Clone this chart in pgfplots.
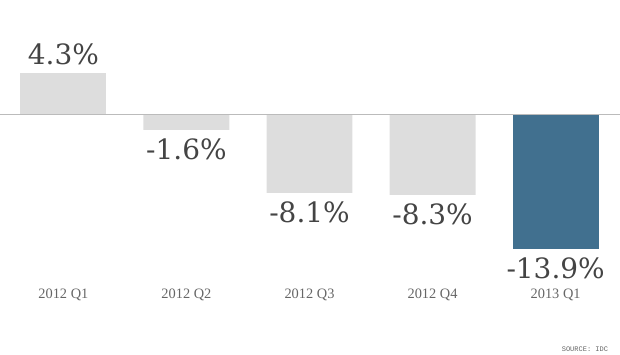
\documentclass[border=0pt]{standalone}
\usepackage{pgfplots}
\pgfplotsset{compat=1.18}
\usepackage{fontspec}
\setmainfont{DejaVu Serif}
\newfontfamily\catfont{Liberation Serif}
\newfontfamily\srcfont{Liberation Mono}
\definecolor{barGray}{HTML}{DDDDDD}
\definecolor{barBlue}{HTML}{41708F}
\definecolor{valText}{HTML}{444444}
\definecolor{catText}{HTML}{666666}
\definecolor{baseLine}{HTML}{BBBBBB}
\begin{document}
\begin{tikzpicture}
\begin{axis}[
 scale only axis, width=620pt, height=355pt,
 xmin=-0.511, xmax=4.519, ymin=-24.79, ymax=11.8,
 axis line style={draw=none}, major tick length=0pt, ytick=\empty,
 xtick={0,1,2,3,4}, xticklabels={2012 Q1,2012 Q2,2012 Q3,2012 Q4,2013 Q1},
 xticklabel style={font=\catfont\fontsize{14.4}{16}\selectfont, text=catText, anchor=base, yshift=56pt},
 clip=false,
 posbar/.style={ybar, bar width=0.698, bar shift=0pt, draw=none,
  point meta=explicit symbolic, nodes near coords,
  nodes near coords style={font=\fontsize{28}{30}\selectfont, text=valText, inner sep=0pt, anchor=base, yshift=8pt}},
 negbar/.style={ybar, bar width=0.698, bar shift=0pt, draw=none,
  point meta=explicit symbolic, nodes near coords,
  nodes near coords style={font=\fontsize{28}{30}\selectfont, text=valText, inner sep=0pt, anchor=north, yshift=-9pt}},
]
\addplot[posbar, fill=barGray] coordinates {(0,4.3) [4.3\%]};
\addplot[negbar, fill=barGray] coordinates {(1,-1.6) [-1.6\%] (2,-8.1) [-8.1\%] (3,-8.3) [-8.3\%]};
\addplot[negbar, fill=barBlue] coordinates {(4,-13.9) [-13.9\%]};
\addplot[sharp plot, baseLine, line width=1pt, mark=none] coordinates {(-0.511,0) (4.519,0)};
\node[anchor=base east, font=\srcfont\fontsize{7}{8}\selectfont, text=catText, xshift=-8pt, yshift=3pt] at (rel axis cs:1,0) {SOURCE: IDC};
\end{axis}
\end{tikzpicture}
\end{document}
